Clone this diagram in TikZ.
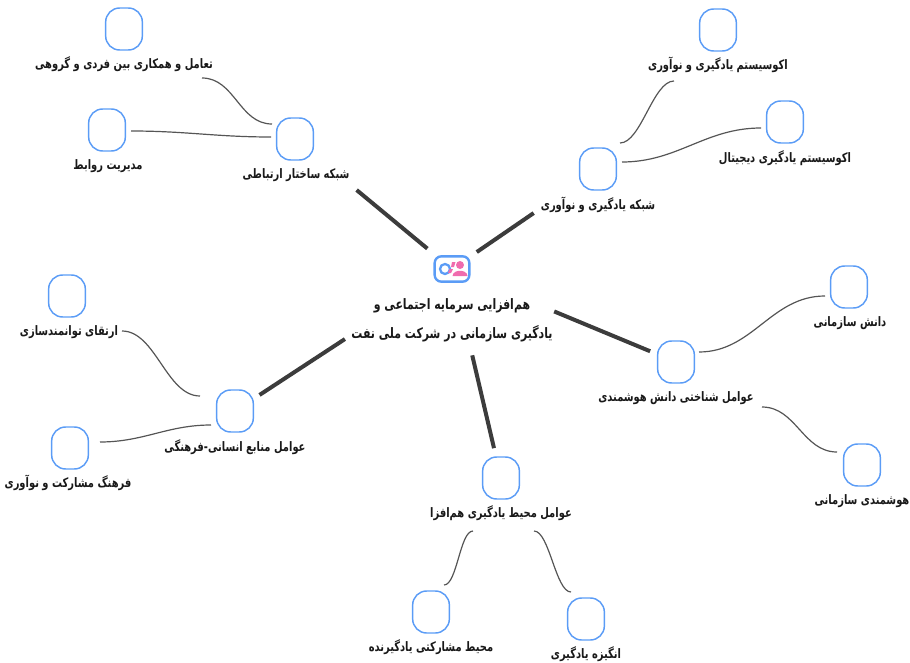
\documentclass[tikz,border=0pt]{standalone}
\usepackage{fontspec}
\TeXXeTstate=1
\newfontfamily\arabicfont[Script=Arabic,FakeStretch=0.76]{DejaVu Sans}
\newcommand{\fa}[1]{\beginR #1\endR}
\definecolor{boxblue}{HTML}{5B9CF6}
\definecolor{iconpink}{HTML}{F06CAE}
\definecolor{linedark}{HTML}{3C3C3C}
\definecolor{linegray}{HTML}{555555}
\tikzset{
  font={\arabicfont\bfseries\fontsize{9.8pt}{12}\selectfont},
  leafbox/.style={draw=boxblue,line width=1.1pt,rounded corners=10.5pt,minimum width=27.5pt,minimum height=31.5pt,inner sep=0pt},
  leaflabel/.style={inner sep=0pt,text=black!90},
  hublink/.style={draw=linedark,line width=3pt},
  leaflink/.style={draw=linegray,line width=0.9pt,out=0,in=180}}

\begin{document}
\begin{tikzpicture}[x=0.75pt,y=-0.75pt]
\useasboundingbox (0,0) rectangle (910,663);
% centre
\node [draw=boxblue,line width=1.8pt,rounded corners=5pt,minimum width=26pt,minimum height=19pt,inner sep=0pt] (hub) at (452,269) {};
\draw [boxblue,line width=1.7pt] (445,269) circle (5);
\fill [iconpink] (460,265) circle (4);
\fill [iconpink] (452.5,276) .. controls (453,269) and (467,269) .. (467.5,276) -- cycle;
\fill [iconpink] (452,262) -- (455.5,262) -- (454,267) -- (451,267) -- cycle;
\fill [iconpink] (449.5,269) -- (453,269) -- (451,273) -- (448,273) -- cycle;
\node [leaflabel,align=center,font={\arabicfont\bfseries\fontsize{10.8pt}{12}\selectfont}] (hublabel) at (452,320) {\fa{هم‌افزایی سرمایه اجتماعی و}\\[8pt]\fa{یادگیری سازمانی در شرکت ملی نفت}};

% main branches
\node [leafbox] (network) at (295,139) {};
\node [leaflabel] (networklabel) at (296,175) {\fa{شبکه ساختار ارتباطی}};
\node [leafbox] (learning) at (598,169) {};
\node [leaflabel] (learninglabel) at (598,205) {\fa{شبکه یادگیری و نوآوری}};
\node [leafbox] (cognitive) at (676,362) {};
\node [leaflabel] (cognitivelabel) at (676,398) {\fa{عوامل شناختی دانش هوشمندی}};
\node [leafbox] (environment) at (501,478) {};
\node [leaflabel] (environmentlabel) at (501,513) {\fa{عوامل محیط یادگیری هم‌افزا}};
\node [leafbox] (human) at (235,411) {};
\node [leaflabel] (humanlabel) at (235,447) {\fa{عوامل منابع انسانی-فرهنگی}};

% leaves
\node [leafbox] (interaction) at (124,29) {};
\node [leaflabel] (interactionlabel) at (124,64) {\fa{تعامل و همکاری بین فردی و گروهی}};
\node [leafbox] (relations) at (107,130) {};
\node [leaflabel] (relationslabel) at (108,166) {\fa{مدیریت روابط}};
\node [leafbox] (ecoone) at (718,30) {};
\node [leaflabel] (ecoonelabel) at (718,65) {\fa{اکوسیستم یادگیری و نوآوری}};
\node [leafbox] (ecotwo) at (785,122) {};
\node [leaflabel] (ecotwolabel) at (785,158) {\fa{اکوسیستم یادگیری دیجیتال}};
\node [leafbox] (knowledge) at (849,287) {};
\node [leaflabel] (knowledgelabel) at (850,323) {\fa{دانش سازمانی}};
\node [leafbox] (intelligence) at (862,465) {};
\node [leaflabel] (intelligencelabel) at (862,501) {\fa{هوشمندی سازمانی}};
\node [leafbox] (participative) at (431,612) {};
\node [leaflabel] (participativelabel) at (431,647) {\fa{محیط مشارکتی یادگیرنده}};
\node [leafbox] (motivation) at (586,619) {};
\node [leaflabel] (motivationlabel) at (586,654) {\fa{انگیزه یادگیری}};
\node [leafbox] (promotion) at (67,296) {};
\node [leaflabel] (promotionlabel) at (69,332) {\fa{ارتقای توانمندسازی}};
\node [leafbox] (culture) at (70,448) {};
\node [leaflabel] (culturelabel) at (68,483) {\fa{فرهنگ مشارکت و نوآوری}};

% thick links
\draw [hublink,shorten <=24pt,shorten >=60pt] (hub.center) -- (network.center);
\draw [hublink,shorten <=22.5pt,shorten >=58.5pt] (hub.center) -- (learning.center);
\draw [hublink,shorten <=83pt,shorten >=21pt] (hub.center) -- (cognitive.center);
\draw [hublink,shorten <=66.5pt,shorten >=23pt] (hub.center) -- (environment.center);
\draw [hublink,shorten <=96pt,shorten >=22pt] (hub.center) -- (human.center);

% free ends of the thin links
\coordinate (a1) at (202,78);
\coordinate (a2) at (272,124);
\coordinate (b1) at (131,131);
\coordinate (b2) at (271,137);
\coordinate (c1) at (620,143);
\coordinate (c2) at (674,81);
\coordinate (d1) at (622,162);
\coordinate (d2) at (761,128);
\coordinate (e1) at (699,352);
\coordinate (e2) at (825,296);
\coordinate (f1) at (762,407);
\coordinate (f2) at (837,452);
\coordinate (g1) at (444,585);
\coordinate (g2) at (473,531);
\coordinate (h1) at (534,531);
\coordinate (h2) at (571,592);
\coordinate (i1) at (122,331);
\coordinate (i2) at (200,396);
\coordinate (j1) at (100,442);
\coordinate (j2) at (211,425);

% thin links
\draw [leaflink] (a1) to (a2);
\draw [leaflink] (b1) to (b2);
\draw [leaflink,looseness=0.65] (c1) to (c2);
\draw [leaflink] (d1) to (d2);
\draw [leaflink] (e1) to (e2);
\draw [leaflink] (f1) to (f2);
\draw [leaflink,looseness=0.55] (g1) to (g2);
\draw [leaflink,looseness=0.55] (h1) to (h2);
\draw [leaflink,looseness=0.85] (i1) to (i2);
\draw [leaflink] (j1) to (j2);
\end{tikzpicture}
\end{document}
